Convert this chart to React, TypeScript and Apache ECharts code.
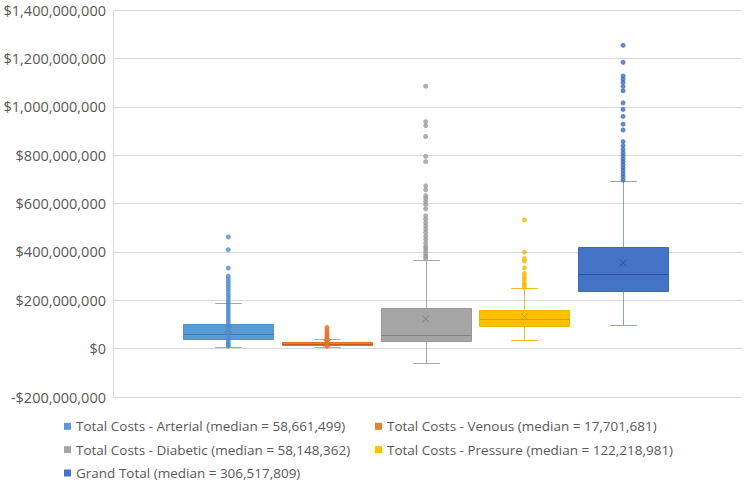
import React, { useEffect, useRef } from 'react';
import * as echarts from 'echarts';

// ---- data ----
const categories = [
  'Total Costs - Arterial (median = 58,661,499)',
  'Total Costs - Venous (median = 17,701,681)',
  'Total Costs - Diabetic (median = 58,148,362)',
  'Total Costs - Pressure (median = 122,218,981)',
  'Grand Total (median = 306,517,809)',
];
const whiskerLow = [5e6, 5e6, -61e6, 36e6, 98e6];
const quartile1 = [40e6, 14e6, 33e6, 94e6, 238e6];
const medians = [58661499, 17701681, 58148362, 122218981, 306517809];
const quartile3 = [101e6, 27e6, 166e6, 158e6, 422e6];
const whiskerHigh = [190e6, 40e6, 366e6, 249e6, 693e6];
const means = [80e6, 23e6, 123e6, 133e6, 355e6];

const arterialPoints = [462e6, 409e6, 333e6, 300e6, 289e6, 278e6, 267e6, 256e6, 245e6, 234e6, 222e6, 212e6, 200e6, 189e6, 178e6, 167e6, 156e6, 145e6, 134e6, 123e6, 112e6, 101e6, 90e6, 80e6, 70e6, 60e6, 50e6, 40e6, 30e6, 22e6, 15e6, 10e6];
const venousPoints = [88e6, 78e6, 69e6, 60e6, 52e6, 44e6, 37e6, 29e6, 22e6, 16e6, 10e6];
const diabeticPoints = [1085e6, 938e6, 922e6, 877e6, 795e6, 773e6, 673e6, 657e6, 632e6, 621e6, 608e6, 595e6, 578e6, 549e6, 535e6, 520e6, 507e6, 494e6, 480e6, 465e6, 452e6, 437e6, 424e6, 415e6, 404e6, 392e6, 381e6, 373e6];
const pressurePoints = [532e6, 399e6, 372e6, 362e6, 334e6, 311e6, 297e6, 285e6, 272e6, 263e6, 253e6];
const grandTotalPoints = [1254e6, 1184e6, 1127e6, 1114e6, 1101e6, 1084e6, 1066e6, 1016e6, 989e6, 960e6, 928e6, 904e6, 856e6, 839e6, 824e6, 810e6, 798e6, 785e6, 773e6, 761e6, 748e6, 736e6, 723e6, 711e6, 697e6];
const pointLists = [arterialPoints, venousPoints, diabeticPoints, pressurePoints, grandTotalPoints];

const yMin = -200e6;
const yMax = 1400e6;
const yInterval = 200e6;

// ---- styles ----
const fills = ['#5B9BD5', '#ED7D31', '#A5A5A5', '#FFC000', '#4472C4'];
const borders = ['#5090CC', '#DE7029', '#999999', '#F0B400', '#3E69B6'];
const medianColors = ['#3F78B5', '#C25E1C', '#7F7F7F', '#D9A100', '#2F5597'];
const whiskerColors = ['#8CAED6', '#EFA070', '#A9A9A9', '#EDBD2A', '#8EA3C9'];
const dotColors = ['#4F8DCB', '#E57428', '#9A9A9A', '#F5B800', '#4069BA'];
const legendPos = [
  { left: 64, top: 418.3 },
  { left: 375, top: 418.3 },
  { left: 64, top: 441.6 },
  { left: 375, top: 441.6 },
  { left: 64, top: 465 },
];

const FONT = "'Open Sans', 'Noto Sans', sans-serif";

function fmtMoney(v: number): string {
  const s = Math.abs(v).toLocaleString('en-US');
  return (v < 0 ? '-$' : '$') + s;
}

export default function App() {
  const ref = useRef<HTMLDivElement>(null);
  useEffect(() => {
    document.body.style.margin = '0';
    if (!ref.current) return;
    const chart = echarts.init(ref.current, null, { renderer: 'svg' });

    const boxSeries = categories.map((name, i) => ({
      type: 'custom',
      name,
      itemStyle: { color: fills[i] },
      encode: { x: 0, y: [1, 2, 3, 4, 5, 6] },
      data: [[i, whiskerLow[i], quartile1[i], medians[i], quartile3[i], whiskerHigh[i], means[i]]],
      z: 2,
      renderItem: (params: any, api: any) => {
        const xi = api.value(0);
        const pMin = api.coord([xi, api.value(1)]);
        const pQ1 = api.coord([xi, api.value(2)]);
        const pMed = api.coord([xi, api.value(3)]);
        const pQ3 = api.coord([xi, api.value(4)]);
        const pMax = api.coord([xi, api.value(5)]);
        const pMean = api.coord([xi, api.value(6)]);
        const band = api.size([1, 0])[0];
        const bw = Math.round(band * 0.91);
        const capHalf = band * 0.135;
        const cx = Math.round(pMed[0]) + 0.5;
        const half = bw / 2;
        const yr = (y: number) => Math.round(y) + 0.5;
        const wStyle = { stroke: whiskerColors[i], lineWidth: 1 };
        const mx = 3.5;
        return {
          type: 'group',
          children: [
            { type: 'line', shape: { x1: cx, y1: yr(pMax[1]), x2: cx, y2: yr(pQ3[1]) }, style: wStyle },
            { type: 'line', shape: { x1: cx, y1: yr(pQ1[1]), x2: cx, y2: yr(pMin[1]) }, style: wStyle },
            { type: 'line', shape: { x1: cx - capHalf, y1: yr(pMax[1]), x2: cx + capHalf, y2: yr(pMax[1]) }, style: wStyle },
            { type: 'line', shape: { x1: cx - capHalf, y1: yr(pMin[1]), x2: cx + capHalf, y2: yr(pMin[1]) }, style: wStyle },
            {
              type: 'rect',
              shape: { x: cx - half, y: yr(pQ3[1]), width: bw, height: Math.max(1, Math.round(pQ1[1]) - Math.round(pQ3[1])) },
              style: { fill: fills[i], stroke: borders[i], lineWidth: 1 },
            },
            { type: 'line', shape: { x1: cx - half, y1: yr(pMed[1]), x2: cx + half, y2: yr(pMed[1]) }, style: { stroke: medianColors[i], lineWidth: 1 } },
            { type: 'line', shape: { x1: pMean[0] - mx, y1: pMean[1] - mx, x2: pMean[0] + mx, y2: pMean[1] + mx }, style: { stroke: medianColors[i], lineWidth: 1 } },
            { type: 'line', shape: { x1: pMean[0] - mx, y1: pMean[1] + mx, x2: pMean[0] + mx, y2: pMean[1] - mx }, style: { stroke: medianColors[i], lineWidth: 1 } },
          ],
        };
      },
    }));

    const dotSeries = pointLists.map((pts, i) => ({
      type: 'scatter',
      name: 'points-' + i,
      symbol: 'circle',
      symbolSize: 5,
      itemStyle: { color: dotColors[i] },
      z: 3,
      data: pts.map((v) => [i, v]),
    }));

    chart.setOption({
      animation: false,
      backgroundColor: '#ffffff',
      grid: { left: 113, right: 4, top: 10, height: 387, containLabel: false },
      xAxis: { type: 'value', min: -1.168, max: 5.205, show: false },
      yAxis: {
        type: 'value',
        min: yMin,
        max: yMax,
        interval: yInterval,
        axisLine: { show: true, onZero: false, lineStyle: { color: '#D9D9D9', width: 1 } },
        axisTick: { show: false },
        splitLine: { show: true, lineStyle: { color: '#D9D9D9', width: 1 } },
        axisLabel: {
          color: '#595959',
          fontFamily: FONT,
          fontSize: 14.5,
          margin: 7,
          formatter: (v: number) => fmtMoney(v),
        },
      },
      legend: categories.map((name, i) => ({
        data: [name],
        left: legendPos[i].left,
        top: legendPos[i].top,
        padding: 0,
        itemGap: 0,
        icon: 'rect',
        itemWidth: 7,
        itemHeight: 7,
        selectedMode: false,
        textStyle: { color: '#595959', fontFamily: FONT, fontSize: 13.5, lineHeight: 16 },
      })),
      series: [...boxSeries, ...dotSeries],
    });
    return () => chart.dispose();
  }, []);
  return <div ref={ref} style={{ width: 746, height: 481 }} />;
}
